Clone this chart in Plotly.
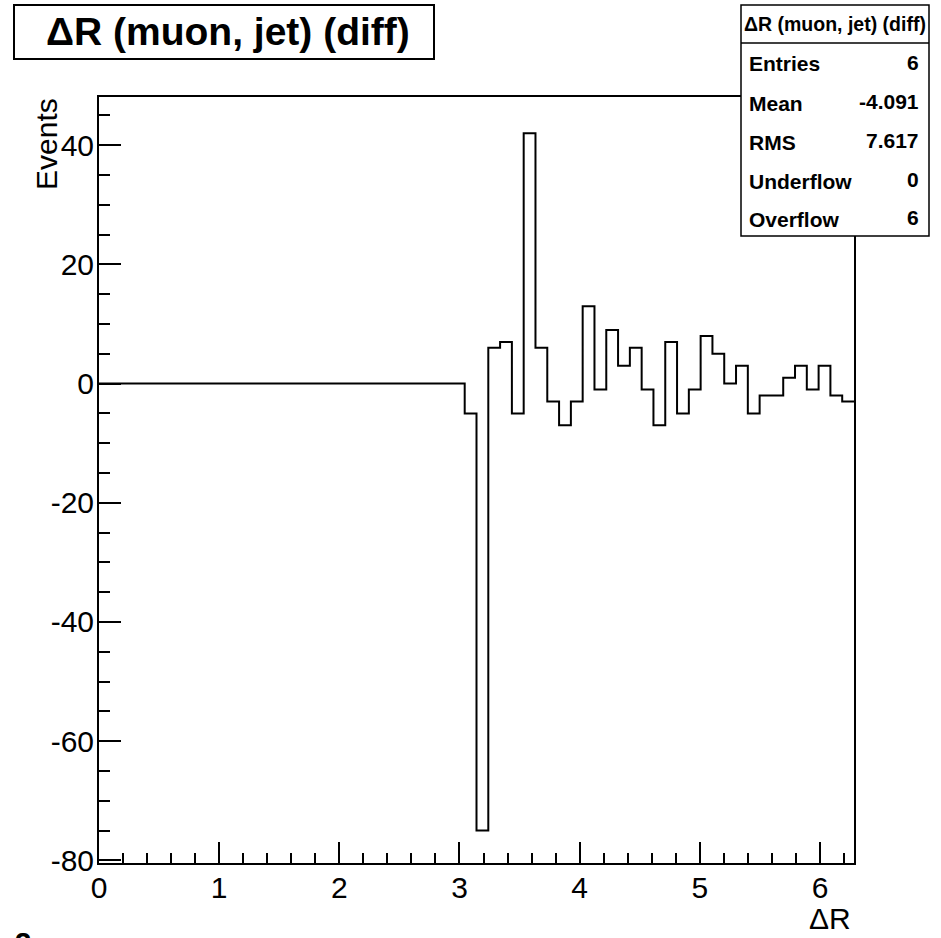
import numpy as np
import plotly.graph_objects as go

# ---- data ----
n_bins = 64
x_min, x_max = 0.0, 2 * np.pi
bin_values = [0] * 31 + [
    -5, -75, 6, 7, -5, 42, 6, -3, -7, -3, 13, -1, 9, 3, 6, -1,
    -7, 7, -5, -1, 8, 5, 0, 3, -5, -2, -2, 1, 3, -1, 3, -2, -3,
]
title_text = "ΔR (muon, jet) (diff)"
stat_names = ["Entries", "Mean", "RMS", "Underflow", "Overflow"]
stat_values = ["6", "-4.091", "7.617", "0", "6"]
x_title = "ΔR"
y_title = "Events"
x_ticks = [0, 1, 2, 3, 4, 5, 6]
x_tick_labels = ["0", "1", "2", "3", "4", "5", "6"]
y_ticks = [-80, -60, -40, -20, 0, 20, 40]
y_tick_labels = ["-80", "-60", "-40", "-20", "0", "20", "40"]

edges = np.linspace(x_min, x_max, n_bins + 1)
xs = list(edges)
ys = list(bin_values) + [bin_values[-1]]

W, H = 941, 938
ML, MR, MT, MB = 99, 87, 97, 75
PW, PH = W - ML - MR, H - MT - MB

def px(p):
    return (p - ML) / PW

def py(p):
    return (H - MB - p) / PH

FONT = "Liberation Sans, Arial, Helvetica, sans-serif"

fig = go.Figure()
fig.add_trace(go.Scatter(
    x=xs, y=ys, mode="lines", line=dict(shape="hv", color="black", width=2),
    hoverinfo="skip", showlegend=False,
))

axis_common = dict(
    showgrid=False, zeroline=False, showline=True, linecolor="black", linewidth=2,
    mirror=True, ticks="inside", tickcolor="black", tickwidth=1.5,
    tickfont=dict(family=FONT, size=30, color="black"),
)
fig.update_xaxes(
    range=[x_min, x_max], tickvals=x_ticks, ticktext=x_tick_labels, ticklen=21,
    ticklabelstandoff=-3,
    minor=dict(ticks="inside", dtick=0.2, tick0=0, ticklen=10, tickwidth=1.5, tickcolor="black"),
    **axis_common,
)
fig.update_yaxes(
    range=[-80.45, 48.1], tickvals=y_ticks, ticktext=y_tick_labels, ticklen=22,
    ticklabelstandoff=-3,
    minor=dict(ticks="inside", dtick=5, tick0=0, ticklen=11, tickwidth=1.5, tickcolor="black"),
    **axis_common,
)

shapes = []
annotations = []

# title box
shapes.append(dict(type="rect", xref="paper", yref="paper",
                   x0=px(14), x1=px(434), y0=py(59), y1=py(5),
                   line=dict(color="black", width=2), fillcolor="white", layer="above"))
annotations.append(dict(xref="paper", yref="paper", x=px(228), y=py(32),
                        xanchor="center", yanchor="middle", showarrow=False,
                        text="<b>%s</b>" % title_text,
                        font=dict(family=FONT, size=39, color="black")))

# stats box
shapes.append(dict(type="rect", xref="paper", yref="paper",
                   x0=px(741), x1=px(929), y0=py(236), y1=py(5),
                   line=dict(color="black", width=1.5), fillcolor="white", layer="above"))
shapes.append(dict(type="line", xref="paper", yref="paper",
                   x0=px(741), x1=px(929), y0=py(43), y1=py(43),
                   line=dict(color="black", width=1.5), layer="above"))
annotations.append(dict(xref="paper", yref="paper", x=px(835), y=py(24),
                        xanchor="center", yanchor="middle", showarrow=False,
                        text="<b>%s</b>" % title_text,
                        font=dict(family=FONT, size=19.5, color="black")))
row_y = [63, 102, 141, 180, 218]
for name, val, ry in zip(stat_names, stat_values, row_y):
    annotations.append(dict(xref="paper", yref="paper", x=px(747), y=py(ry + 1),
                            xanchor="left", yanchor="middle", showarrow=False,
                            text="<b>%s</b>" % name,
                            font=dict(family=FONT, size=21, color="black")))
    annotations.append(dict(xref="paper", yref="paper", x=px(921), y=py(ry - 1),
                            xanchor="right", yanchor="middle", showarrow=False,
                            text="<b>%s</b>" % val,
                            font=dict(family=FONT, size=21, color="black")))

# axis titles
annotations.append(dict(xref="paper", yref="paper", x=px(47), y=py(96),
                        xanchor="center", yanchor="top", showarrow=False, textangle=-90,
                        text=y_title, font=dict(family=FONT, size=30, color="black")))
annotations.append(dict(xref="paper", yref="paper", x=px(853), y=py(919),
                        xanchor="right", yanchor="middle", showarrow=False,
                        text=x_title, font=dict(family=FONT, size=30, color="black")))
# cut-off label at bottom left
annotations.append(dict(xref="paper", yref="paper", x=px(34), y=py(942),
                        xanchor="right", yanchor="middle", showarrow=False,
                        text="<b>> 2</b>", font=dict(family=FONT, size=30, color="black")))

fig.update_layout(
    width=W, height=H, margin=dict(l=ML, r=MR, t=MT, b=MB, pad=0),
    paper_bgcolor="white", plot_bgcolor="white",
    shapes=shapes, annotations=annotations, showlegend=False,
)
fig.write_html("out.html", config={"displayModeBar": False},
               post_script="document.body.style.margin='0';document.body.style.padding='0';")
